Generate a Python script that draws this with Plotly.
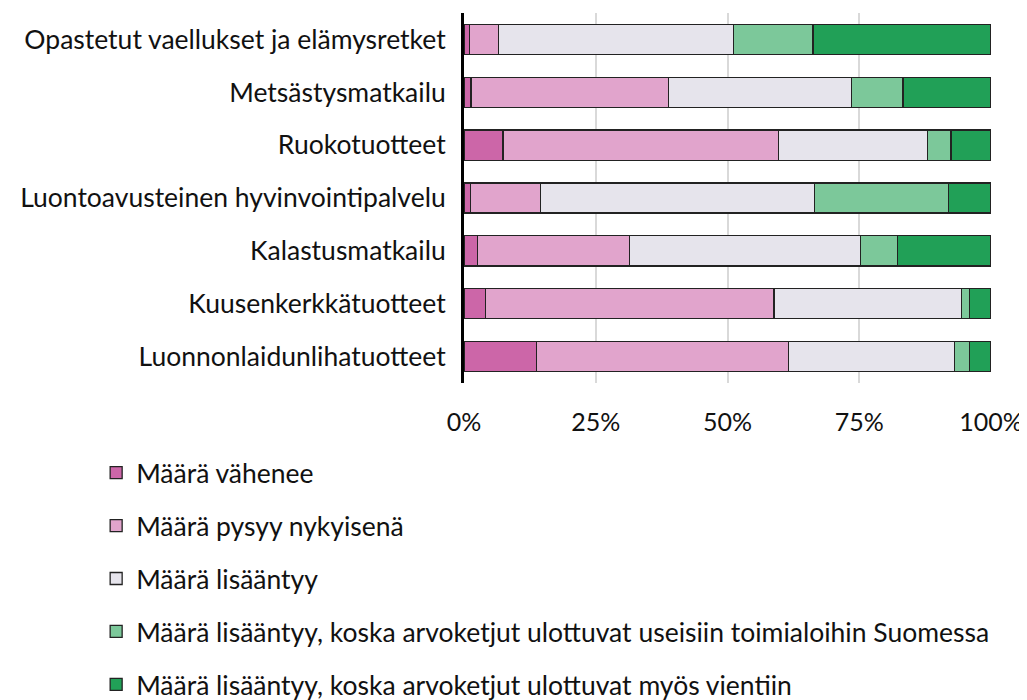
import plotly.graph_objects as go

categories = [
    "Opastetut vaellukset ja elämysretket",
    "Metsästysmatkailu",
    "Ruokotuotteet",
    "Luontoavusteinen hyvinvointipalvelu",
    "Kalastusmatkailu",
    "Kuusenkerkkätuotteet",
    "Luonnonlaidunlihatuotteet",
]

series_names = [
    "Määrä vähenee",
    "Määrä pysyy nykyisenä",
    "Määrä lisääntyy",
    "Määrä lisääntyy, koska arvoketjut ulottuvat useisiin toimialoihin Suomessa",
    "Määrä lisääntyy, koska arvoketjut ulottuvat myös vientiin",
]

vahenee = [1.1, 1.3, 7.4, 1.2, 2.5, 4.1, 13.7]
pysyy = [5.5, 37.5, 52.3, 13.3, 28.9, 54.7, 47.9]
lisaantyy = [44.6, 34.7, 28.3, 52.0, 43.9, 35.6, 31.5]
lisaantyy_suomi = [15.0, 9.8, 4.4, 25.4, 6.9, 1.5, 2.8]
lisaantyy_vienti = [33.8, 16.7, 7.6, 8.1, 17.8, 4.1, 4.1]

values = [vahenee, pysyy, lisaantyy, lisaantyy_suomi, lisaantyy_vienti]
colors = ["#CC66A8", "#E1A4CC", "#E6E4EC", "#7CC89A", "#21A057"]

tick_vals = [0, 25, 50, 75, 100]
tick_text = ["0%", "25%", "50%", "75%", "100%"]

FONT = "Lato"
FS = 26.5

fig = go.Figure()
for i, (name, vals, col) in enumerate(zip(series_names, values, colors)):
    fig.add_trace(go.Bar(
        x=vals, y=categories, orientation="h", name=name,
        marker=dict(color=col, line=dict(color="#222222", width=1.3)),
        legendgroup=f"g{i}",
    ))

fig.update_layout(
    barmode="stack",
    bargap=0.43,
    width=1027, height=700,
    paper_bgcolor="white", plot_bgcolor="white",
    margin=dict(l=456, r=44, t=5, b=325, autoexpand=False),
    font=dict(family=FONT, size=FS, color="#111111"),
    showlegend=True,
    legend=dict(
        orientation="v", x=-0.698, xanchor="left", y=-0.178, yanchor="top",
        font=dict(family=FONT, size=FS, color="#111111"),
        tracegroupgap=15.5, itemwidth=30, traceorder="grouped",
    ),
)
fig.update_xaxes(
    range=[0, 100], tickvals=tick_vals, ticktext=tick_text,
    showgrid=True, gridcolor="#D9D9D9", gridwidth=1.5,
    zeroline=False, showline=False, ticks="",
    ticklabelstandoff=22,
    tickfont=dict(family=FONT, size=25, color="#111111"),
)
fig.update_yaxes(
    autorange="reversed",
    showline=True, linecolor="black", linewidth=3,
    ticks="", ticklabelstandoff=10,
    tickfont=dict(family=FONT, size=FS, color="#111111"),
)

fig.write_html("out.html")
